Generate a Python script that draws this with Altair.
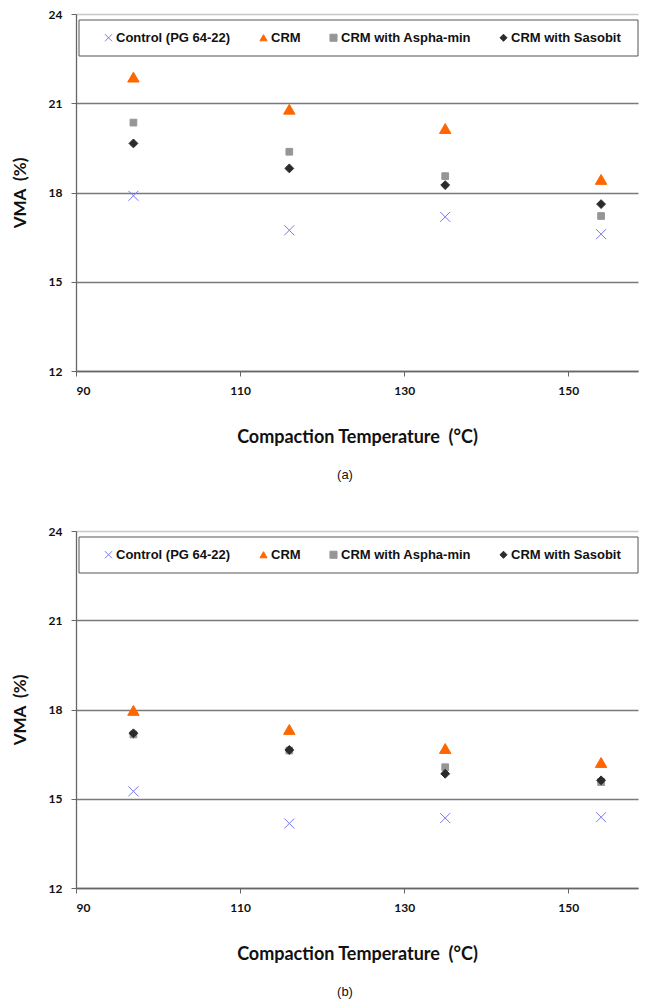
import altair as alt
import pandas as pd

temps = [97, 116, 135, 154]
series = ["Control (PG 64-22)", "CRM", "CRM with Aspha-min", "CRM with Sasobit"]
colors = ["#7878EE", "#FF6600", "#969696", "#2B2B2B"]
shapes = ["M-1,-1L1,1M-1,1L1,-1", "triangle-up", "square", "diamond"]
sizes = [100, 130, 45, 78]

a_control = [17.89, 16.73, 17.18, 16.60]
a_crm = [21.88, 20.80, 20.15, 18.44]
a_aspha = [20.35, 19.37, 18.55, 17.21]
a_sasobit = [19.65, 18.81, 18.25, 17.61]

b_control = [15.25, 14.17, 14.35, 14.38]
b_crm = [17.97, 17.33, 16.69, 16.22]
b_aspha = [17.16, 16.62, 16.06, 15.56]
b_sasobit = [17.20, 16.64, 15.84, 15.62]

x_ticks = [90, 110, 130, 150]
y_ticks = [12, 15, 18, 21, 24]

W = 562
H = 357
NB = "\u00a0"


def panel(vals, label):
    leg = alt.Legend(
        orient="none", legendX=26, legendY=17, direction="horizontal", columns=4,
        title=None, labelFont="Liberation Sans", labelFontWeight="bold",
        labelFontSize=13, labelColor="#111111", labelOffset=1,
        columnPadding=26, symbolSize=50, symbolStrokeWidth=1, padding=0,
    )
    box = alt.Chart(pd.DataFrame({"k": [0]})).mark_rect(
        fillOpacity=0, stroke="#555555", strokeWidth=1
    ).encode(x=alt.value(3), x2=alt.value(W), y=alt.value(6), y2=alt.value(42))
    layers = [box]
    for i, (name, ys) in enumerate(zip(series, vals)):
        df = pd.DataFrame({"temp": temps, "vma": ys, "series": [name] * len(temps)})
        layers.append(
            alt.Chart(df).mark_point(filled=True, strokeWidth=1, opacity=1, size=sizes[i]).encode(
                x=alt.X("temp:Q", scale=alt.Scale(domain=[90, 158.5], nice=False, zero=False),
                        axis=alt.Axis(values=x_ticks, title="Compaction Temperature" + NB + NB + "(°C)",
                                      grid=False, titlePadding=32, labelPadding=9)),
                y=alt.Y("vma:Q", scale=alt.Scale(domain=[12, 24], nice=False, zero=False),
                        axis=alt.Axis(values=y_ticks, title="VMA" + NB + NB + "(%)", grid=True,
                                      gridColor={"condition": {"test": "datum.value === 24", "value": "#C8C8C8"}, "value": "#7A7A7A"},
                                      gridWidth=1.3, titlePadding=19, labelPadding=9)),
                fill=alt.Fill("series:N", scale=alt.Scale(domain=series, range=colors), legend=leg),
                stroke=alt.Stroke("series:N", scale=alt.Scale(domain=series, range=colors), legend=leg),
                shape=alt.Shape("series:N", scale=alt.Scale(domain=series, range=shapes), legend=leg),
            )
        )
    return alt.layer(*layers).properties(
        width=W, height=H,
        title=alt.TitleParams(label, orient="bottom", font="Liberation Sans",
                              fontSize=13, fontWeight="normal", color="#111111",
                              anchor="middle", dx=-12, offset=23),
    )


pa = panel([a_control, a_crm, a_aspha, a_sasobit], "(a)")
pb = panel([b_control, b_crm, b_aspha, b_sasobit], "(b)")

chart = alt.vconcat(pa, pb, spacing=43).resolve_scale(
    x="independent", y="independent", fill="independent", stroke="independent",
    shape="independent"
).properties(
    padding={"left": 3, "top": 0, "right": 0, "bottom": 0}
).configure_view(stroke=None).configure_axis(
    domainColor="#666666", domainWidth=1.3, tickColor="#666666", tickSize=5,
    labelFont="Lato", labelFontWeight="bold", labelFontSize=12, labelColor="#111111",
    titleFont="Lato", titleFontWeight="bold", titleFontSize=18, titleColor="#111111",
).configure_axisY(titleFontSize=17)

chart.save("out.html", embed_options={"renderer": "svg", "actions": False})
